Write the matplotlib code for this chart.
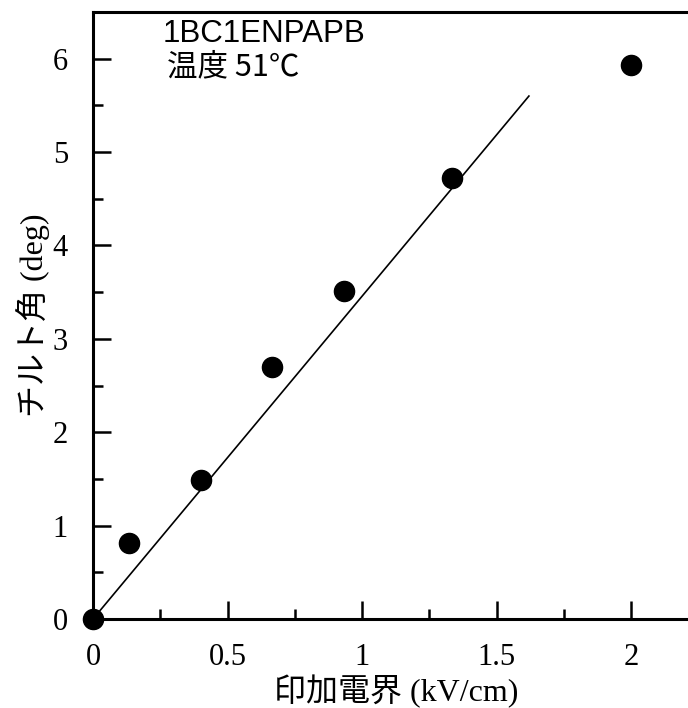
import matplotlib
matplotlib.use('Agg')
import matplotlib.pyplot as plt
from matplotlib.ticker import MultipleLocator

# measured points: applied field (kV/cm) vs tilt angle (deg)
field = [0, 0.133, 0.4, 0.667, 0.933, 1.333, 2.0]
tilt = [0, 0.81, 1.49, 2.70, 3.51, 4.72, 5.93]

# straight fit line through origin
fit_x = [0, 1.62]
fit_y = [0, 5.60]

serif = ['Liberation Serif', 'Noto Sans CJK JP']

fig = plt.figure(figsize=(6.88, 7.08), dpi=100)
ax = fig.add_axes([93/688, 89/708, 0.88, 607/708])

ax.plot(fit_x, fit_y, color='black', lw=1.2, zorder=2)
ax.plot(field, tilt, 'o', color='black', markersize=14.5, clip_on=False, zorder=3)

ax.set_xlim(0, 2.25)
ax.set_ylim(0, 6.5)
ax.xaxis.set_major_locator(MultipleLocator(0.5))
ax.xaxis.set_minor_locator(MultipleLocator(0.25))
ax.yaxis.set_major_locator(MultipleLocator(1))
ax.yaxis.set_minor_locator(MultipleLocator(0.5))
ax.xaxis.set_major_formatter(plt.FuncFormatter(lambda v, p: '%g' % v))
ax.yaxis.set_major_formatter(plt.FuncFormatter(lambda v, p: '%g' % v))

ax.tick_params(which='both', direction='in', top=False, right=False, width=1.8)
ax.tick_params(which='major', length=13, labelsize=22)
ax.tick_params(axis='x', which='major', pad=17)
ax.tick_params(axis='y', which='major', pad=18)
ax.tick_params(which='minor', length=7)
for lab in ax.get_xticklabels() + ax.get_yticklabels():
    lab.set_family(serif)

for s in ['left', 'bottom', 'top']:
    ax.spines[s].set_linewidth(2.2)
ax.spines['right'].set_visible(False)

ax.set_xlabel('印加電界 (kV/cm)', family=serif, fontsize=23, labelpad=2)
ax.set_ylabel('チルト角 (deg)', family=serif, fontsize=23, labelpad=2)

ax.text(0.26, 6.43, '1BC1ENPAPB', family='Liberation Sans', fontsize=22.5, va='top')
ax.text(0.275, 5.91, '温度 51℃', family=['Noto Sans CJK JP', 'DejaVu Sans'], fontsize=22, va='center')

fig.savefig('out.png', dpi=100)
